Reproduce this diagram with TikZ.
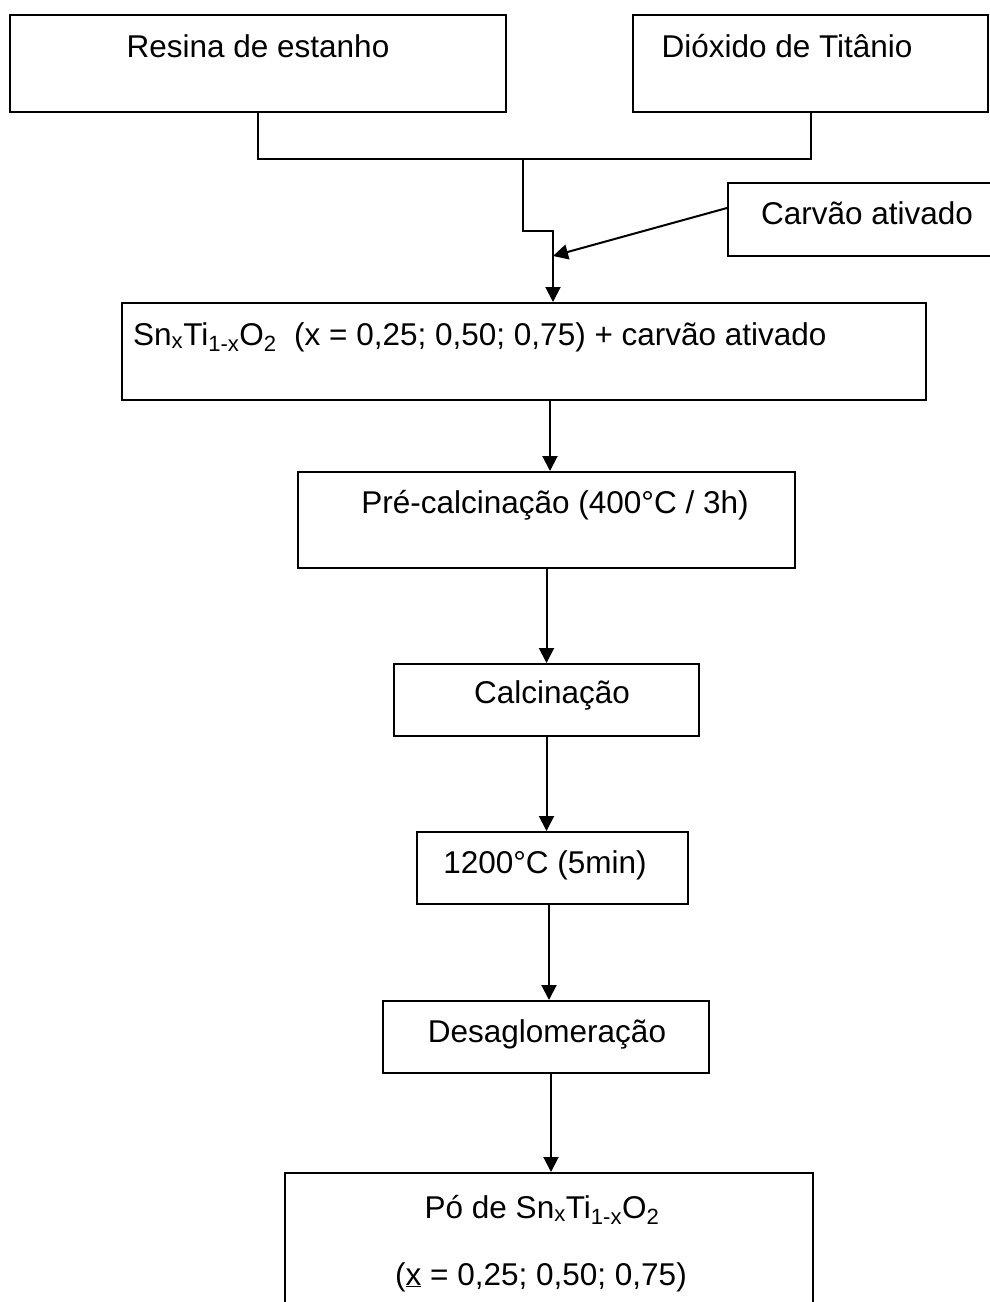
\documentclass[tikz,border=0pt]{standalone}
\usepackage{fontspec}
\setmainfont{Liberation Sans}
\usetikzlibrary{arrows.meta}
\begin{document}
\begin{tikzpicture}[x=1pt,y=-1pt,
  box/.style={draw, line width=2pt, inner sep=0pt},
  txt/.style={inner sep=0pt, anchor=base, font=\fontsize{31.5}{38}\selectfont},
  link/.style={line width=2pt},
  arr/.style={line width=2pt, -{Triangle[length=15pt,width=15pt]}}]
\useasboundingbox (0,0) rectangle (990,1302);
\clip (0,0) rectangle (990,1302);

% boxes
\node[box, minimum width=496pt, minimum height=97pt] (resina)  at (258,63.5) {};
\node[box, minimum width=355pt, minimum height=97pt] (dioxido) at (810.5,63.5) {};
\node[box, minimum width=272pt, minimum height=73pt] (carvao)  at (864,219.5) {};
\node[box, minimum width=804pt, minimum height=97pt] (sn)      at (524,351.5) {};
\node[box, minimum width=497pt, minimum height=96pt] (pre)     at (546.5,520) {};
\node[box, minimum width=305pt, minimum height=72pt] (calc)    at (546.5,700) {};
\node[box, minimum width=271pt, minimum height=72pt] (heat)    at (552.5,868) {};
\node[box, minimum width=326pt, minimum height=72pt] (desag)   at (546,1037) {};
\node[box, minimum width=528pt, minimum height=157pt] (po)     at (549,1251.5) {};

% labels
\node[txt] (tresina)  at (258,57)  {Resina de estanho};
\node[txt] (tdioxido) at (787,57)  {Dióxido de Titânio};
\node[txt] (tcarvao)  at (867,224) {Carvão ativado};
\node[txt, anchor=base west] (tsn) at (133,345)
  {Sn\textsubscript{x}Ti\textsubscript{1-x}O\textsubscript{2}\ \ (x = 0,25; 0,50; 0,75) + carvão ativado};
\node[txt] (tpre)   at (555,513)  {Pré-calcinação (400°C / 3h)};
\node[txt] (tcalc)  at (552,703)  {Calcinação};
\node[txt] (theat)  at (545,873)  {1200°C (5min)};
\node[txt] (tdesag) at (547,1042) {Desaglomeração};
\node[txt] (tpo)    at (542,1218) {Pó de Sn\textsubscript{x}Ti\textsubscript{1-x}O\textsubscript{2}};
\node[txt] (tpox)   at (541,1285) {(\underline{x} = 0,25; 0,50; 0,75)};

% merging of the two precursors
\coordinate (join) at (523,159);
\coordinate (jog)  at (553,231);
\coordinate (meet) at (553,256);
\draw[link] (resina.south) |- (join) -| (dioxido.south);
\draw[arr] (join) |- (jog) -- (jog |- sn.north);
\draw[arr] ([yshift=11.5pt]carvao.west) -- (meet);

% process chain
\draw[arr] ([xshift=26pt]sn.south) -- ([xshift=3.5pt]pre.north);
\draw[arr] (pre.south) -- (calc.north);
\draw[arr] (calc.south) -- (calc.south |- heat.north);
\draw[arr] ([xshift=-3.5pt]heat.south) -- ([xshift=3pt]desag.north);
\draw[arr] ([xshift=5pt]desag.south) -- ([xshift=2pt]po.north);
\end{tikzpicture}
\end{document}
